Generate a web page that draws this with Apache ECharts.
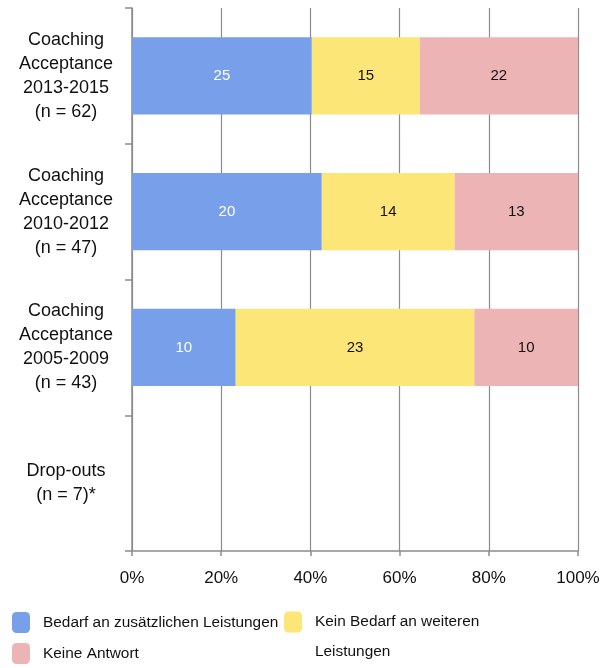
<!DOCTYPE html>
<html>
<head>
<meta charset="utf-8">
<title>Coaching Acceptance</title>
<script src="https://cdn.jsdelivr.net/npm/echarts@6/dist/echarts.min.js"></script>
<style>
  html, body { margin: 0; padding: 0; background: #fff; overflow: hidden; }
  #chart { width: 604px; height: 668px; }
</style>
</head>
<body>
<div id="chart"></div>
<script>
// Groups, top to bottom
const categories = [
  'Coaching\nAcceptance\n2013-2015\n(n = 62)',
  'Coaching\nAcceptance\n2010-2012\n(n = 47)',
  'Coaching\nAcceptance\n2005-2009\n(n = 43)',
  'Drop-outs\n(n = 7)*'
];

// Answer counts per group (no breakdown for drop-outs)
const bedarf = [25, 20, 10, null];
const keinBedarf = [15, 14, 23, null];
const keineAntwort = [22, 13, 10, null];

const seriesNames = [
  'Bedarf an zusätzlichen Leistungen',
  'Kein Bedarf an weiteren Leistungen',
  'Keine Antwort'
];
const xTicks = [0, 20, 40, 60, 80, 100];

const FONT = '"Liberation Sans", Arial, Helvetica, sans-serif';
const AXIS_GREY = '#8c8c8c';

// Row totals for the 100 % stacking
const totals = categories.map((_, i) => {
  const parts = [bedarf[i], keinBedarf[i], keineAntwort[i]];
  if (parts.every(v => v == null)) return null;
  return parts.reduce((s, v) => s + (v || 0), 0);
});

function toShare(counts) {
  return counts.map((c, i) => c == null || !totals[i]
    ? { value: null, count: null }
    : { value: c / totals[i] * 100, count: c });
}

function barSeries(name, counts, color, labelColor) {
  return {
    name: name,
    type: 'bar',
    stack: 'share',
    barWidth: '57%',
    data: toShare(counts),
    itemStyle: { color: color },
    label: {
      show: true,
      position: 'inside',
      color: labelColor,
      fontFamily: FONT,
      fontSize: 15,
      formatter: p => p.data.count == null ? '' : String(p.data.count)
    }
  };
}

const legendText = { fontFamily: FONT, fontSize: 15.4, color: '#111' };

const chart = echarts.init(document.getElementById('chart'), null, { renderer: 'canvas' });
chart.setOption({
  animation: false,
  backgroundColor: '#fff',
  grid: { left: 132, right: 26, top: 8, bottom: 117, containLabel: false },
  legend: [
    {
      data: [seriesNames[0]], left: 12, top: 612, padding: 0,
      icon: 'roundRect', itemWidth: 18, itemHeight: 21,
      textStyle: Object.assign({ padding: [0, 0, 0, 8] }, legendText)
    },
    {
      // blank first line keeps the first text line level with the swatch
      data: [seriesNames[1]], left: 284, top: 577, padding: 0,
      icon: 'roundRect', itemWidth: 18, itemHeight: 21,
      formatter: () => ' \nKein Bedarf an weiteren\nLeistungen',
      textStyle: Object.assign({ padding: [0, 0, 0, 8], lineHeight: 30 }, legendText)
    },
    {
      data: [seriesNames[2]], left: 12, top: 643, padding: 0,
      icon: 'roundRect', itemWidth: 18, itemHeight: 21,
      textStyle: Object.assign({ padding: [0, 0, 0, 8] }, legendText)
    }
  ],
  xAxis: {
    type: 'value',
    min: xTicks[0],
    max: xTicks[xTicks.length - 1],
    interval: xTicks[1] - xTicks[0],
    axisLine: { show: true, lineStyle: { color: AXIS_GREY, width: 1.5 } },
    axisTick: { show: true, length: 5, lineStyle: { color: AXIS_GREY, width: 1.5 } },
    splitLine: { show: true, lineStyle: { color: AXIS_GREY, width: 1.2 } },
    axisLabel: {
      margin: 19,
      fontFamily: FONT,
      fontSize: 17,
      color: '#111',
      formatter: '{value}%'
    }
  },
  yAxis: {
    type: 'category',
    inverse: true,
    data: categories,
    axisLine: { show: true, lineStyle: { color: AXIS_GREY, width: 1.5 } },
    axisTick: { show: true, length: 7, lineStyle: { color: AXIS_GREY, width: 1.5 } },
    splitLine: { show: false },
    axisLabel: {
      align: 'center',
      margin: 66,
      fontFamily: FONT,
      fontSize: 18,
      lineHeight: 24,
      color: '#111'
    }
  },
  series: [
    barSeries(seriesNames[0], bedarf, '#789fea', '#ffffff'),
    barSeries(seriesNames[1], keinBedarf, '#fbe677', '#111111'),
    barSeries(seriesNames[2], keineAntwort, '#ecb4b4', '#111111')
  ]
});
</script>
</body>
</html>
